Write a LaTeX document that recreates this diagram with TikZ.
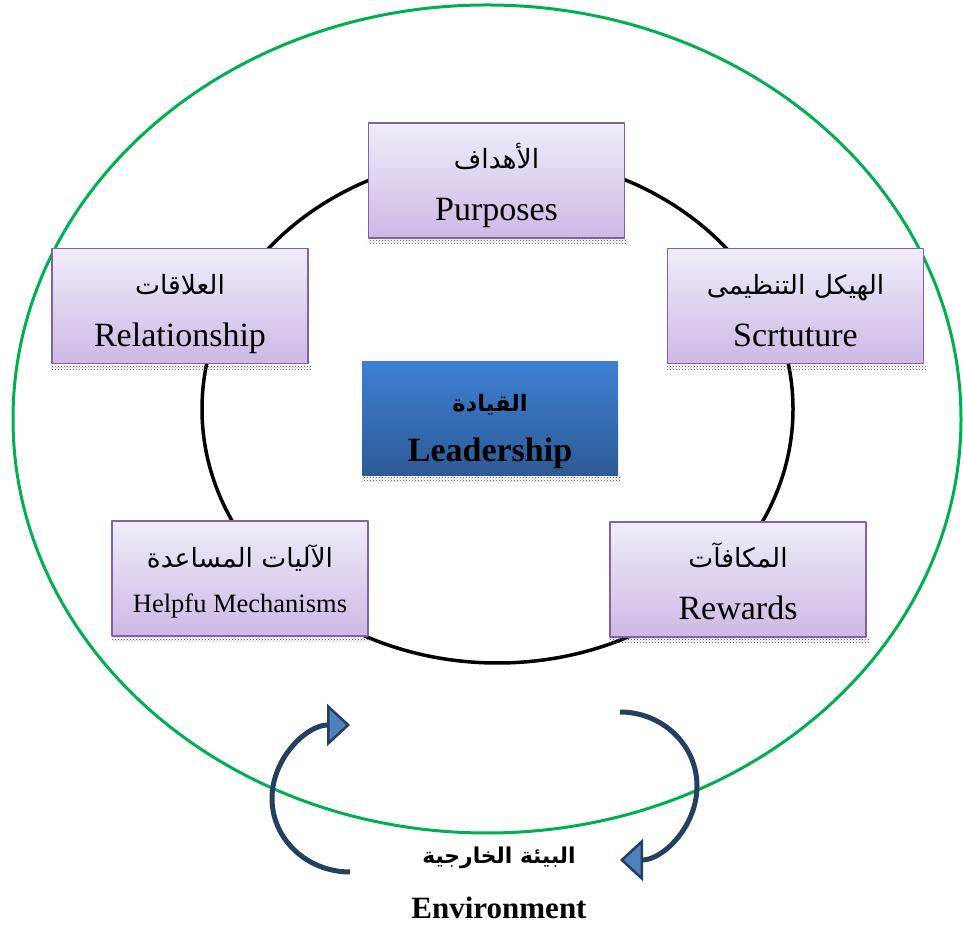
\documentclass[tikz,border=0pt]{standalone}
\usepackage{fontspec}
\setmainfont{Liberation Serif}
\newfontfamily\arabicfont[Script=Arabic,Scale=0.78]{DejaVu Sans}
\TeXXeTstate=1
\usepackage{xcolor}
\usetikzlibrary{arrows.meta,patterns}
\definecolor{boxtop}{HTML}{F1ECF9}
\definecolor{boxbottom}{HTML}{CCB9E5}
\definecolor{boxline}{HTML}{8064A2}
\definecolor{leadtop}{HTML}{3D80D3}
\definecolor{leadbottom}{HTML}{2D5A95}
\definecolor{envgreen}{HTML}{00B050}
\definecolor{cycleline}{HTML}{243F60}
\definecolor{cyclefill}{HTML}{4F81BD}
\newcommand{\artext}[1]{{\arabicfont\beginR #1\endR}}

\begin{document}
\begin{tikzpicture}[line cap=round,line join=round,x=1pt,y=1pt,
	factor/.style={draw=boxline,line width=1.5pt,top color=boxtop,bottom color=boxbottom,
		minimum width=256pt,minimum height=115pt,align=center,inner sep=0pt,
		text height=81pt,text depth=0pt,font=\fontsize{34}{52}\selectfont},
	leader/.style={top color=leadtop,bottom color=leadbottom,
		minimum width=256pt,minimum height=114pt,align=center,inner sep=0pt,
		text height=86pt,text depth=0pt,font=\bfseries\fontsize{34}{50}\selectfont},
	shade strip/.style={pattern=crosshatch dots,pattern color=black!70},
	cycle arrow/.style={draw=cycleline,line width=5pt,line cap=butt,
		-{Triangle[length=23pt,width=42pt,line width=2.5pt,fill=cyclefill]}}]
	\useasboundingbox (0,0) rectangle (963,926);
	% environment and the ring of factors
	\draw[envgreen,line width=3pt] (487,507) ellipse (474pt and 414pt);
	\draw[black,line width=3.5pt] (497.5,517) ellipse (295.5pt and 254pt);
	% factor boxes
	\node[factor] (purp) at (496.5,745.5) {\artext{الأهداف}\\Purposes};
	\node[factor] (rel) at (180,620) {\artext{العلاقات}\\Relationship};
	\node[factor] (struc) at (795.5,620) {\artext{الهيكل التنظيمى}\\Scrtuture};
	\node[factor,text height=69pt,font=\fontsize{26.5}{45}\selectfont] (help) at (240,347.5) {\artext{\fontsize{34}{45}\selectfont الآليات المساعدة}\\Helpfu Mechanisms};
	\node[factor] (rew) at (738,346.5) {\artext{المكافآت}\\Rewards};
	\node[leader] (lead) at (490,507) {\artext{\fontsize{29}{50}\selectfont القيادة}\\Leadership};
	% dotted shadows under the boxes
	\fill[shade strip] ([yshift=-1pt]purp.south west) rectangle ([yshift=-5pt,xshift=2pt]purp.south east);
	\fill[shade strip] ([yshift=-1pt]rel.south west) rectangle ([yshift=-5pt,xshift=2pt]rel.south east);
	\fill[shade strip] ([yshift=-1pt]struc.south west) rectangle ([yshift=-5pt,xshift=2pt]struc.south east);
	\fill[shade strip] ([yshift=-1pt]help.south west) rectangle ([yshift=-5pt,xshift=2pt]help.south east);
	\fill[shade strip] ([yshift=-1pt]rew.south west) rectangle ([yshift=-5pt,xshift=2pt]rew.south east);
	\fill[shade strip] ([yshift=0pt]lead.south west) rectangle ([yshift=-5pt,xshift=2pt]lead.south east);
	% cycle arrows round the environment
	\draw[cycle arrow] (350,54) arc[start angle=-90,end angle=-270,x radius=78,y radius=73.5];
	\draw[cycle arrow] (620,214) arc[start angle=90,end angle=-90,x radius=77,y radius=74];
	\node[font=\bfseries\fontsize{28}{40}\selectfont] (envar) at (499,68) {\artext{البيئة الخارجية}};
	\node[font=\bfseries\fontsize{31}{40}\selectfont] (enven) at (499,18) {Environment};
\end{tikzpicture}
\end{document}
